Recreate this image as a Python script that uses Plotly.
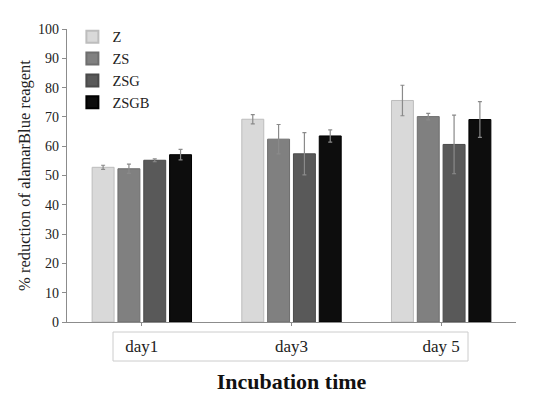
import plotly.graph_objects as go

categories = ["day1", "day3", "day 5"]
series_names = ["Z", "ZS", "ZSG", "ZSGB"]
values = {
    "Z":    [52.8, 69.2, 75.6],
    "ZS":   [52.3, 62.4, 70.1],
    "ZSG":  [55.2, 57.4, 60.6],
    "ZSGB": [57.1, 63.5, 69.1],
}
errors = {
    "Z":    [0.7, 1.6, 5.2],
    "ZS":   [1.6, 5.0, 1.1],
    "ZSG":  [0.5, 7.2, 10.0],
    "ZSGB": [1.8, 2.1, 6.1],
}
colors = {"Z": "#d9d9d9", "ZS": "#808080", "ZSG": "#595959", "ZSGB": "#0d0d0d"}
borders = {"Z": "#bdbdbd", "ZS": "#6e6e6e", "ZSG": "#4a4a4a", "ZSGB": "#000000"}

x_idx = list(range(len(categories)))

fig = go.Figure()
for name in series_names:
    fig.add_trace(go.Bar(
        name=name, x=x_idx, y=values[name],
        marker=dict(color=colors[name], line=dict(color=borders[name], width=1)),
        error_y=dict(type="data", array=errors[name], color="#8a8a8a", thickness=1.2, width=2),
    ))

font_family = "Liberation Serif"
fig.update_layout(
    width=550, height=394,
    margin=dict(l=67, r=34, t=29, b=72, autoexpand=False),
    paper_bgcolor="white", plot_bgcolor="white",
    barmode="group", bargap=0.31, bargroupgap=0.15,
    font=dict(family=font_family, color="#222222", size=12),
    showlegend=True,
    legend=dict(x=0.012, y=1.028, xanchor="left", yanchor="top",
                font=dict(family=font_family, size=14.5, color="#222222"),
                bgcolor="rgba(0,0,0,0)", tracegroupgap=0, itemwidth=30,
                itemsizing="constant"),
    xaxis=dict(
        automargin=False,
        range=[-0.5, 2.5], tickvals=x_idx, ticktext=categories,
        showline=True, linecolor="#8c8c8c", linewidth=1.2,
        ticks="outside", ticklen=3, tickcolor="#8c8c8c",
        tickfont=dict(size=17, family=font_family, color="#222222"),
        ticklabelstandoff=5, showgrid=False, zeroline=False,
        title=dict(text="<b>Incubation time</b>", font=dict(size=22, family=font_family, color="#111111"), standoff=24),
    ),
    yaxis=dict(
        automargin=False,
        range=[0, 100], dtick=10, showline=True, linecolor="#8c8c8c", linewidth=1.2,
        ticks="outside", ticklen=4, tickcolor="#8c8c8c",
        tickfont=dict(size=14, family=font_family, color="#222222"),
        showgrid=False, zeroline=False,
        title=dict(text="% reduction of alamarBlue reagent", font=dict(size=16.5, family=font_family, color="#222222"), standoff=3),
    ),
    shapes=[dict(type="rect", xref="paper", yref="paper",
                 x0=(113 - 67) / 449, x1=(468 - 67) / 449,
                 y0=-(361 - 322) / 293, y1=-(332 - 322) / 293,
                 line=dict(color="#cccccc", width=1))],
)

fig.write_html("out.html", config={"displayModeBar": False},
               post_script="document.body.style.margin='0px';document.body.style.overflow='hidden';")
